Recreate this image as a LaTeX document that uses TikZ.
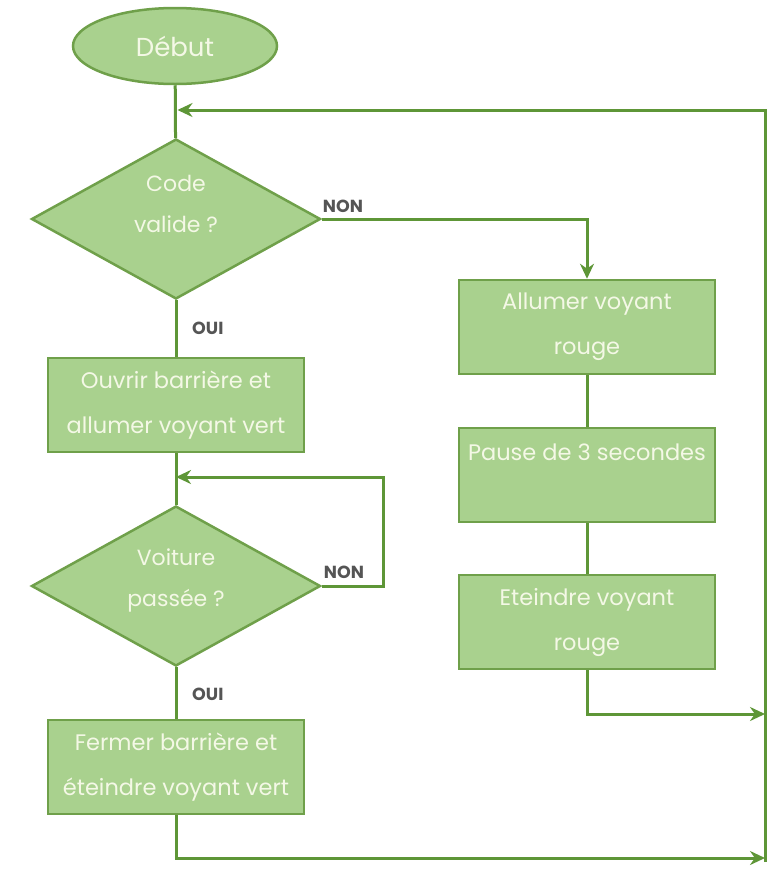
\documentclass[tikz,border=0pt]{standalone}
\usepackage{fontspec}
\setmainfont{Poppins}
\usepackage{tikz}
\usetikzlibrary{shapes.geometric,positioning,calc,arrows.meta}
\definecolor{boxfill}{HTML}{A9D18E}
\definecolor{boxline}{HTML}{6FA04A}
\definecolor{flowline}{HTML}{5E9637}
\definecolor{boxtext}{HTML}{F4F8E6}
\definecolor{labeltext}{HTML}{555555}

\tikzset{
  stepbox/.style={draw=boxline, line width=2.5pt, fill=boxfill, text=boxtext,
    minimum width=256pt, minimum height=94pt, inner sep=0pt, align=center,
    font=\fontsize{22.5}{45}\selectfont},
  testbox/.style={diamond, draw=boxline, line width=2.5pt, fill=boxfill, text=boxtext,
    minimum width=289pt, minimum height=160pt, inner sep=0pt, shape aspect=1.8,
    align=center, font=\fontsize{22}{41}\selectfont},
  startbox/.style={ellipse, draw=boxline, line width=2.5pt, fill=boxfill, text=boxtext,
    minimum width=204pt, minimum height=76pt, inner sep=0pt,
    font=\fontsize{26}{30}\selectfont},
  flow/.style={draw=flowline, line width=3pt},
  flowarrow/.style={flow, -{Stealth[length=15pt,width=14pt]}},
  answer/.style={text=labeltext, font=\fontsize{17.5}{20}\selectfont\bfseries, inner sep=0pt}
}

\begin{document}
\begin{tikzpicture}[x=1pt, y=-1pt]
  \useasboundingbox (0,0) rectangle (782,876);

  % left column
  \node[startbox] (start) at (175,46) {Début};
  \node[testbox, text depth=30pt] (code) at (176,219) {Code\\valide ?};
  \node[stepbox] (ouvrir) at (176,405) {Ouvrir barrière et\\allumer voyant vert};
  \node[testbox, text depth=16pt] (voit) at (176,586) {Voiture\\passée ?};
  \node[stepbox] (fermer) at (176,767) {Fermer barrière et\\éteindre voyant vert};

  % right column
  \node[stepbox] (allum) at (587,327) {Allumer voyant\\rouge};
  \node[stepbox] (pause) at (587,475) {Pause de 3 secondes\\~};
  \node[stepbox] (etein) at (587,622) {Eteindre voyant\\rouge};

  % return line
  \coordinate (rtop) at (765,110);
  \coordinate (rmid) at (765,714);
  \coordinate (rbot) at (765,858);
  \coordinate (ctop) at (176,110);
  \coordinate (vloop) at (383,477);
  \coordinate (vtop) at (176,477);

  \draw[flow] (start) -- (code);
  \draw[flow] (code) -- (ouvrir);
  \draw[flow] (ouvrir) -- (voit);
  \draw[flow] (voit) -- (fermer);
  \draw[flow] (allum) -- (pause);
  \draw[flow] (pause) -- (etein);

  \draw[flowarrow] (code.east) -| (allum.north);
  \draw[flowarrow] (voit.east) -| (vloop) -- (vtop);
  \draw[flowarrow] (etein.south) |- (rmid);
  \draw[flowarrow] (fermer.south) |- (rbot);
  \draw[flowarrow, shorten >=1.5pt] ($(rbot)+(0,4)$) -- (rtop) -- (ctop);

  % answers
  \node[answer, anchor=base west] (non1) at ($(code.east)+(1,-7)$) {NON};
  \node[answer, anchor=base west] (oui1) at ($(code.south)+(16,34)$) {OUI};
  \node[answer, anchor=base west] (non2) at ($(voit.east)+(2,-8)$) {NON};
  \node[answer, anchor=base west] (oui2) at ($(voit.south)+(16,33)$) {OUI};
\end{tikzpicture}
\end{document}
